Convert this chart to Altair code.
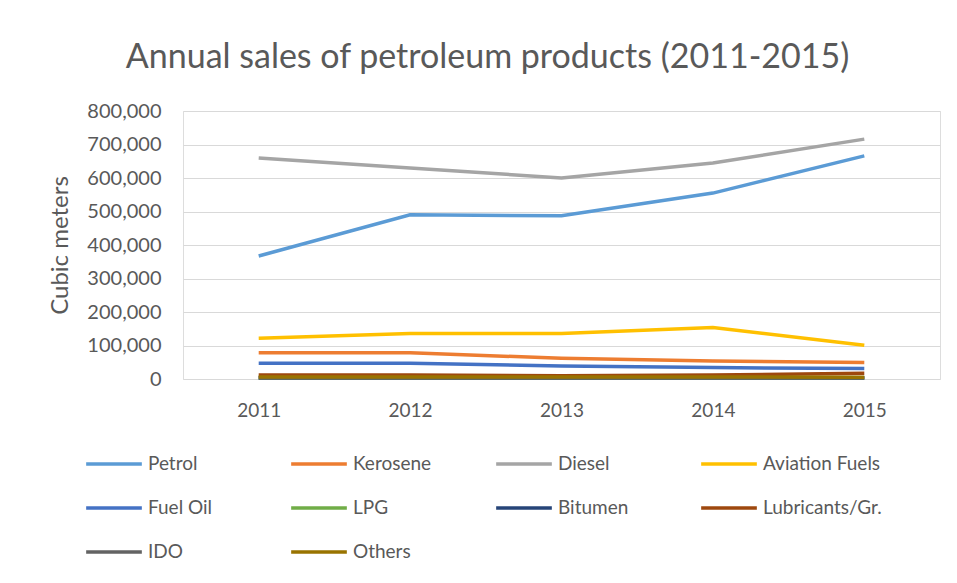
import altair as alt
import pandas as pd

years = ["2011", "2012", "2013", "2014", "2015"]
series = ["Petrol", "Kerosene", "Diesel", "Aviation Fuels", "Fuel Oil",
          "LPG", "Bitumen", "Lubricants/Gr.", "IDO", "Others"]
petrol = [367000, 490000, 487000, 555000, 666000]
kerosene = [78000, 78000, 62000, 54000, 49000]
diesel = [660000, 630000, 600000, 645000, 716000]
aviation = [122000, 136000, 136000, 154000, 101000]
fuel_oil = [47000, 47000, 39000, 34000, 31000]
lpg = [2000, 2000, 2000, 2000, 2000]
bitumen = [4000, 4000, 4000, 4000, 4000]
lubricants = [12000, 12000, 10000, 12000, 17000]
ido = [3000, 3000, 3000, 3000, 3000]
others = [6000, 6000, 6000, 6000, 5000]
colors = ["#5B9BD5", "#ED7D31", "#A5A5A5", "#FFC000", "#4472C4",
          "#70AD47", "#264478", "#9E480E", "#636363", "#997300"]

values = [petrol, kerosene, diesel, aviation, fuel_oil, lpg, bitumen,
          lubricants, ido, others]
rows = []
for i, (name, vals) in enumerate(zip(series, values)):
    for y, v in zip(years, vals):
        rows.append({"Year": y, "Product": name, "Value": v, "order": i})
df = pd.DataFrame(rows)

font = "Lato"
grey = "#595959"

chart = alt.Chart(df).mark_line(strokeWidth=3.5).encode(
    x=alt.X("Year:O", scale=alt.Scale(padding=0.5), sort=years,
            axis=alt.Axis(title=None, labelAngle=0, labelPadding=22, ticks=False,
                          domain=False, labelFontSize=19, labelColor=grey,
                          labelFont=font)),
    y=alt.Y("Value:Q", scale=alt.Scale(domain=[0, 800000], nice=False),
            axis=alt.Axis(title="Cubic meters", values=list(range(0, 800001, 100000)),
                          format=",d", ticks=False, domain=False, labelPadding=22,
                          labelFontSize=20, labelColor=grey, labelFont=font,
                          titleFontSize=24, titleFont=font, titleColor=grey,
                          titleFontWeight="normal", titlePadding=14,
                          gridColor="#D9D9D9", gridWidth=1)),
    color=alt.Color("Product:N", scale=alt.Scale(domain=series, range=colors),
                    legend=alt.Legend(title=None, orient="none", legendX=-99,
                                      legendY=323, columns=4, direction="horizontal",
                                      symbolType="stroke",
                                      symbolStrokeWidth=3.5, symbolSize=3100,
                                      labelFontSize=19, labelFont=font,
                                      labelColor=grey, labelOffset=4,
                                      columnPadding=17, rowPadding=4,
                                      gridAlign="all")),
    order=alt.Order("order:Q"),
).properties(
    width=757, height=268,
    title=alt.TitleParams("Annual sales of petroleum products (2011-2015)",
                          fontSize=34, font=font, fontWeight="normal",
                          color=grey, anchor="middle", dx=-74, offset=26),
    autosize=alt.AutoSizeParams(type="none"),
    padding={"left": 175, "top": 103, "right": 9, "bottom": 196},
).configure_view(stroke=None).configure(background="white")

chart.save("out.html", embed_options={"renderer": "svg", "actions": False})
